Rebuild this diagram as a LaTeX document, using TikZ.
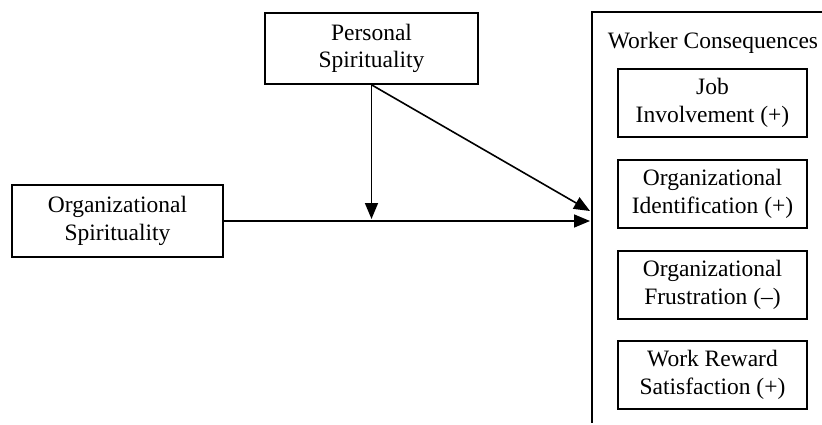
\documentclass[tikz,border=0pt]{standalone}
\usepackage{fontspec}
\setmainfont{Liberation Serif}
\usetikzlibrary{arrows.meta}
\begin{document}
\begin{tikzpicture}[x=1pt,y=-1pt,
  line width=1.6pt,
  txt/.style={font=\fontsize{23.5}{27.5}\selectfont},
  box/.style={draw, line width=1.6pt, align=center, inner sep=0pt, txt},
  conn/.style={-{Triangle[length=16pt,width=13pt]}, line width=1.6pt}]
\useasboundingbox (0,0) rectangle (822,425);

% source constructs
\node[box, minimum width=213pt, minimum height=71pt] (pers) at (371.5,48.5) {Personal\\Spirituality};
\node[box, minimum width=211pt, minimum height=72pt] (orgs) at (117.5,221) {Organizational\\Spirituality};

% frame around the outcomes
\coordinate (ftr) at (822,12);
\coordinate (ftl) at (592,12);
\coordinate (fbl) at (592,423);
\draw (ftr) -- (ftl) -- (fbl);
\node[txt] (wc) at (713,43) {Worker Consequences};

% outcome boxes
\begin{scope}[every node/.append style={box, minimum width=189pt, minimum height=68pt}]
\node (job) at (712.5,103) {Job\\Involvement (+)};
\node (oid) at (712.5,194) {Organizational\\Identification (+)};
\node (ofr) at (712.5,285) {Organizational\\Frustration (--)};
\node (wrs) at (712.5,375) {Work Reward\\Satisfaction (+)};
\end{scope}

% paths
\coordinate (hit) at (590,221);
\coordinate (dhit) at (590,211);
\coordinate (mod) at (371.5,219);
\draw[conn] (orgs.east) -- (hit);
\draw[conn] (pers.south) -- (mod);
\draw[conn] (pers.south) -- (dhit);
\end{tikzpicture}
\end{document}
